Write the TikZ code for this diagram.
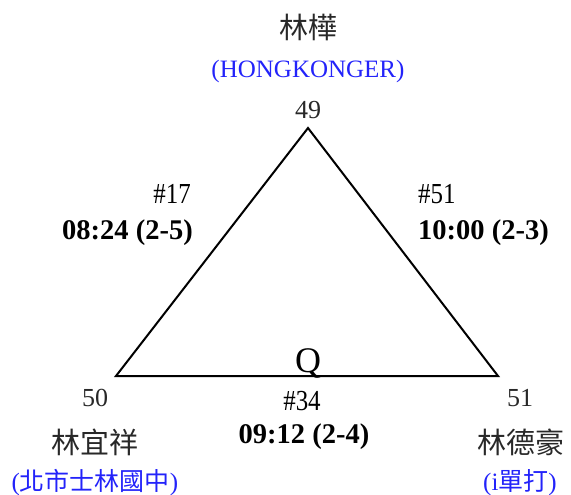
\documentclass[tikz,border=0pt]{standalone}
\usepackage{fontspec}
\setmainfont{Liberation Serif}
\newfontfamily\cjk{Noto Sans CJK TC}
\usetikzlibrary{positioning}
\definecolor{tc}{RGB}{35,35,250}
\definecolor{gc}{RGB}{40,40,40}
\newcommand\gnum[1]{\scalebox{0.86}[1]{#1}}
\tikzset{num/.style={inner sep=0pt,text=gc,font=\fontsize{26}{28}\selectfont},
 nm/.style={inner sep=0pt,text=gc,font=\cjk\fontsize{29}{32}\selectfont},
 club/.style={inner sep=0pt,text=tc,font=\fontsize{25}{28}\selectfont},
 gno/.style={inner sep=0pt,font=\fontsize{29}{30}\selectfont},
 gtm/.style={inner sep=0pt,font=\bfseries\fontsize{28.5}{30}\selectfont},
 edge/.style={line width=2pt}}
\begin{document}
\begin{tikzpicture}[x=1pt,y=-1pt]
\useasboundingbox (0,0) rectangle (571,495);
\coordinate (v49) at (308,128);\coordinate (v50) at (116,376);\coordinate (v51) at (498,376);
\draw[edge] (v49)--(v50)--(v51)--cycle;
% players
\node[nm] (p49) at (308,27) {林樺};
\node[club] (c49) at (308,71) {(HONGKONGER)};
\node[num] (n49) at (308,110) {49};
\node[num] (n50) at (95,398) {50};
\node[nm] (p50) at (95,442) {林宜祥};
\node[club] (c50) at (95,483) {({\cjk 北市士林國中})};
\node[num] (n51) at (520,398) {51};
\node[nm] (p51) at (521,442) {林德豪};
\node[club] (c51) at (520,483) {(i{\cjk 單打})};
% games
\node[gno,anchor=east] (g17) at (191,194) {\gnum{\#17}};
\node[gtm,anchor=east] (t17) at (193,233) {08:24 (2-5)};
\node[gno,anchor=west] (g51) at (418,194) {\gnum{\#51}};
\node[gtm,anchor=west] (t51) at (418,233) {10:00 (2-3)};
\node[gno] (g34) at (302,401) {\gnum{\#34}};
\node[gtm] (t34) at (304,437) {09:12 (2-4)};
\node[inner sep=0pt,anchor=base,font=\fontsize{36}{40}\selectfont] (q) at (308,372) {Q};
\end{tikzpicture}
\end{document}
